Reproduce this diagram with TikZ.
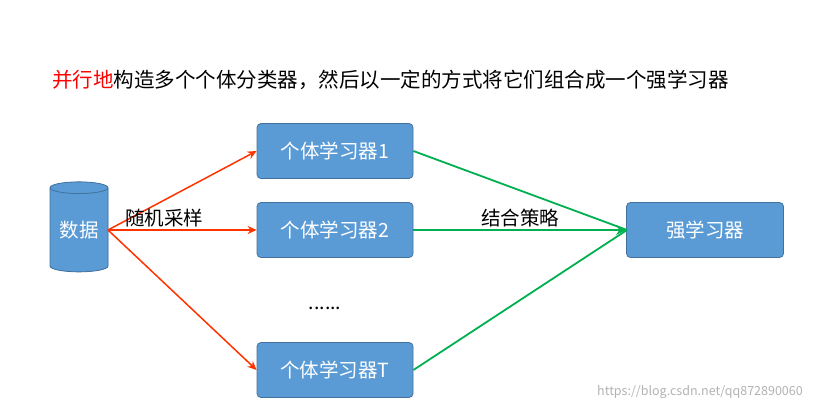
\documentclass[tikz,border=0pt]{standalone}
\usepackage{fontspec}
\setmainfont{Noto Sans CJK SC}
\usetikzlibrary{shapes.geometric,arrows.meta}
\definecolor{boxfill}{HTML}{5B9BD5}
\definecolor{boxline}{HTML}{41719C}
\definecolor{redarr}{HTML}{FF3300}
\definecolor{greenarr}{HTML}{00B050}
\tikzset{
  learner/.style={draw=boxline,fill=boxfill,rounded corners=4pt,minimum width=156pt,minimum height=55pt,text=white,font=\fontsize{19.5}{22}\selectfont,line width=0.8pt},
  redline/.style={draw=redarr,line width=1.5pt,-{Stealth[length=9pt,width=8pt]}},
  greenline/.style={draw=greenarr,line width=1.8pt},
  lbl/.style={font=\fontsize{19.5}{22}\selectfont}
}
\begin{document}
\begin{tikzpicture}[x=1pt,y=-1pt]
\useasboundingbox (0,0) rectangle (824,412);
\node[anchor=west,font=\fontsize{20.5}{23}\selectfont,inner sep=0pt] (title) at (52,80) {\textcolor{red}{并行地}构造多个个体分类器，然后以一定的方式将它们组合成一个强学习器};
\node[cylinder,shape border rotate=90,draw=boxline,fill=boxfill,cylinder uses custom fill,cylinder body fill=boxfill,cylinder end fill=boxfill!85!white,aspect=0.3,minimum width=58pt,minimum height=90pt,text=white,font=\fontsize{19.5}{22}\selectfont,line width=0.8pt,inner sep=0pt] (data) at (79,230) {数据};
\node[learner] (b1) at (335,151) {个体学习器1};
\node[learner] (b2) at (335,230) {个体学习器2};
\node[learner] (bt) at (335,370) {个体学习器T};
\node[learner,minimum width=157pt] (s) at (705,230) {强学习器};
\coordinate (src) at (108,230);
\coordinate (dst) at (627,230);
\draw[redline] (src) -- (b1.west);
\draw[redline] (src) -- (b2.west);
\draw[redline] (src) -- (bt.west);
\draw[greenline] (b1.east) -- (dst);
\draw[greenline] (bt.east) -- (dst);
\draw[greenline,-{Stealth[length=10pt,width=10pt]}] (b2.east) -- (s.west);
\node[lbl] (l1) at (164,218) {随机采样};
\node[lbl] (l2) at (520,218) {结合策略};
\node[lbl] (dots) at (325,308) {......};
\node[text=gray!60,font=\fontsize{12.5}{14}\selectfont] (wm) at (700,392) {https://blog.csdn.net/qq872890060};
\end{tikzpicture}
\end{document}
